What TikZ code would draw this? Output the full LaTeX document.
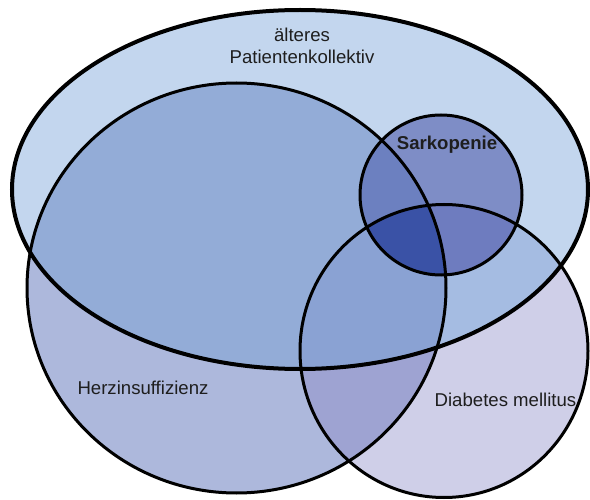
\documentclass[tikz,border=0pt]{standalone}
\usepackage{fontspec}
\setmainfont{Liberation Sans}
\definecolor{cA}{HTML}{C3D6EE}
\definecolor{cH}{HTML}{ADB8DC}
\definecolor{cD}{HTML}{CFCFE8}
\definecolor{cAH}{HTML}{93ACD7}
\definecolor{cAD}{HTML}{A5BCE2}
\definecolor{cHD}{HTML}{9EA3D2}
\definecolor{cAHD}{HTML}{8AA2D3}
\definecolor{cS}{HTML}{7E8DC6}
\definecolor{cSH}{HTML}{6C80C0}
\definecolor{cSD}{HTML}{6E7CBF}
\definecolor{cSHD}{HTML}{3A52A6}
\definecolor{txt}{HTML}{1E1E1E}
\begin{document}
\begin{tikzpicture}[x=1pt,y=-1pt,
  lbl/.style={font=\fontsize{18.6}{22}\selectfont, text=txt, align=center, inner sep=0pt},
  lblbold/.style={font=\fontsize{18.6}{22}\selectfont\bfseries, text=txt, align=center, inner sep=0pt},
  thickoutline/.style={line width=4pt, draw=black},
  thinoutline/.style={line width=3pt, draw=black}]
\useasboundingbox (0,0) rectangle (590,500);
\def\pA{(300,189.5) ellipse [x radius=288pt, y radius=179.5pt]}
\def\pH{(236.5,288) ellipse [x radius=209.5pt, y radius=205pt]}
\def\pD{(444,351) ellipse [x radius=144pt, y radius=146.5pt]}
\def\pS{(441,195) ellipse [x radius=81pt, y radius=80pt]}
% base fills
\fill[cA] \pA;
\fill[cH] \pH;
\fill[cD] \pD;
% pairwise intersections
\begin{scope}\clip \pA; \fill[cAH] \pH; \end{scope}
\begin{scope}\clip \pA; \fill[cAD] \pD; \end{scope}
\begin{scope}\clip \pH; \fill[cHD] \pD; \end{scope}
\begin{scope}\clip \pA; \clip \pH; \fill[cAHD] \pD; \end{scope}
% Sarkopenie
\fill[cS] \pS;
\begin{scope}\clip \pS; \fill[cSH] \pH; \end{scope}
\begin{scope}\clip \pS; \fill[cSD] \pD; \end{scope}
\begin{scope}\clip \pS; \clip \pH; \fill[cSHD] \pD; \end{scope}
% outlines
\draw[thinoutline] \pH;
\draw[thinoutline] \pD;
\draw[thinoutline] \pS;
\draw[thickoutline] \pA;
% labels
\node[lbl] (aelt) at (302,46) {älteres\\Patientenkollektiv};
\node[lblbold] (sark) at (447,145) {Sarkopenie};
\node[lbl] (herz) at (143,388) {Herzinsuffizienz};
\node[lbl] (diab) at (505.5,400) {Diabetes mellitus};
\end{tikzpicture}
\end{document}
